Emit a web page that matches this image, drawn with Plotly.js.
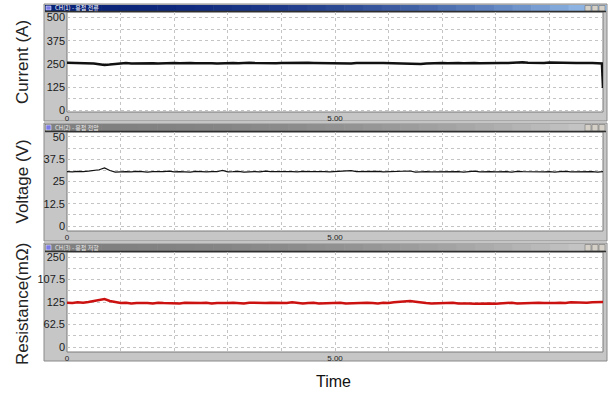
<!DOCTYPE html>
<html><head><meta charset="utf-8">
<script src="https://cdn.plot.ly/plotly-3.0.1.min.js"></script>
<style>html,body{margin:0;padding:0;background:#fff}#chart{width:609px;height:394px}</style>
</head><body><div id="chart"></div>
<script>
// ---------- data ----------
const time = [0,0.1,0.2,0.3,0.4,0.5,0.6,0.7,0.8,0.9,
1,1.1,1.2,1.3,1.4,1.5,1.6,1.7,1.8,1.9,
2,2.1,2.2,2.3,2.4,2.5,2.6,2.7,2.8,2.9,
3,3.1,3.2,3.3,3.4,3.5,3.6,3.7,3.8,3.9,
4,4.1,4.2,4.3,4.4,4.5,4.6,4.7,4.8,4.9,
5,5.1,5.2,5.3,5.4,5.5,5.6,5.7,5.8,5.9,
6,6.1,6.2,6.3,6.4,6.5,6.6,6.7,6.8,6.9,
7,7.1,7.2,7.3,7.4,7.5,7.6,7.7,7.8,7.9,
8,8.1,8.2,8.3,8.4,8.5,8.6,8.7,8.8,8.9,
9,9.1,9.2,9.3,9.4,9.5,9.6,9.7,9.8,9.9,
9.98,10];
const current = [256,255,257,255,254,252,248,244,246,250,
253,254,252,253,255,254,253,252,254,255,
254,253,255,254,253,254,255,253,252,254,
255,254,253,255,256,254,253,254,255,253,
254,255,254,253,254,256,255,254,253,254,
255,254,253,252,254,255,254,253,255,254,
253,254,252,250,247,246,249,252,254,255,
254,253,255,254,253,255,254,253,254,255,
256,255,254,256,257,258,256,255,254,255,
257,256,254,255,256,254,255,256,254,253,
252,120];
const voltage = [30.6,30.4,30.7,30.5,30.8,31.0,31.6,32.6,31.2,30.3,
30.5,30.6,30.4,30.7,30.5,30.3,30.6,30.4,30.5,30.8,
30.4,30.6,30.5,30.3,30.7,30.5,30.4,30.6,30.5,31.2,
30.4,30.5,30.7,30.3,30.6,30.5,30.4,30.8,30.5,30.6,
30.3,30.5,30.6,30.4,30.7,30.5,30.6,30.3,30.5,30.4,
30.6,30.5,30.8,31.1,30.5,30.6,30.3,30.5,30.7,30.4,
30.5,30.6,30.4,30.5,30.9,30.3,30.5,30.6,30.4,30.5,
30.7,30.4,30.5,30.6,30.3,30.5,30.8,30.4,30.6,30.5,
30.4,30.6,30.5,30.3,30.7,30.5,30.4,30.6,30.5,30.4,
30.6,30.3,30.5,30.7,30.4,30.5,30.6,30.4,30.5,30.3,
30.5,30.6];
const resistance = [123,122,124,123,125,127,130,133,128,124,
122,123,121,122,123,122,121,123,122,121,
122,121,123,122,121,122,123,121,122,121,
122,123,122,121,123,122,121,122,123,122,
121,122,124,122,121,122,123,121,122,121,
122,123,121,122,121,122,123,122,121,123,
122,124,125,127,128,126,123,122,121,122,
121,122,123,121,122,121,120,121,122,121,
120,121,122,123,121,122,121,122,123,122,
121,122,123,122,124,123,122,123,124,125,
124,125];
const currentTicks = [0,125,250,375,500];
const currentTickText = ["0","125","250","375","500"];
const voltageTicks = [0,12.5,25,37.5,50];
const voltageTickText = ["0","12.5","25","37.5","50"];
const resistanceTicks = [0,62.5,125,187.5,250];
const resistanceTickText = ["0","62.5","125","107.5","250"];
const timeTicks = [0,5];
const timeTickText = ["0","5.00"];
const yTitles = ["Current (A)","Voltage (V)","Resistance(mΩ)"];
const windowTitles = ["CH(1) - 용접 전류","CH(2) - 용접 전압","CH(3) - 용접 저항"];
const xTitle = "Time";

// ---------- layout helpers ----------
const W = 609, H = 394;
const fx = p => p / W;
const fy = p => 1 - p / H;
const winL = 44, winR = 607, plotL = 67, plotR = 603;
const panels = [
  {top:4,  tTop:5,   tBot:11,  pTop:12,  pBot:112, bot:121, range:[-10,530], active:true},
  {top:123,tTop:124, tBot:131, pTop:132, pBot:231, bot:241, range:[-2.8,52.8], active:false},
  {top:243,tTop:244, tBot:251, pTop:252, pBot:352, bot:361, range:[-13.9,263.9], active:false}
];
function hex(c){return '#'+c.map(v=>Math.round(v).toString(16).padStart(2,'0')).join('');}
function mix(a,b,t){return a.map((v,i)=>v+(b[i]-v)*t);}

const shapes = [];
const annotations = [];
panels.forEach((p,i)=>{
  shapes.push({type:'rect',xref:'paper',yref:'paper',layer:'below',
    x0:fx(winL),x1:fx(winR),y0:fy(p.bot),y1:fy(p.top),
    fillcolor:'#c6c6c6',line:{color:'#8a8a8a',width:1}});
  const c0 = p.active ? [10,36,120] : [128,128,128];
  const c1 = p.active ? [150,190,235] : [200,200,200];
  const n = 30, x0 = winL+1, x1 = winR-1;
  for(let k=0;k<n;k++){
    const t = k/(n-1);
    const tt = Math.pow(t,2.2);
    shapes.push({type:'rect',xref:'paper',yref:'paper',layer:'below',
      x0:fx(x0+(x1-x0)*k/n),x1:fx(x0+(x1-x0)*(k+1)/n+0.5),
      y0:fy(p.tBot),y1:fy(p.tTop),fillcolor:hex(mix(c0,c1,tt)),line:{width:0}});
  }
  shapes.push({type:'rect',xref:'paper',yref:'paper',layer:'below',
    x0:fx(46),x1:fx(51),y0:fy(p.tBot-1),y1:fy(p.tTop+1),
    fillcolor:'#7a7ae8',line:{color:'#ffffff',width:0.5}});
  [585,592,599].forEach((bx)=>{
    shapes.push({type:'rect',xref:'paper',yref:'paper',layer:'below',
      x0:fx(bx),x1:fx(bx+6),y0:fy(p.tBot),y1:fy(p.tTop+0.5),
      fillcolor:'#d4d0c8',line:{color:'#606060',width:0.5}});
  });
  shapes.push({type:'rect',xref:'paper',yref:'paper',layer:'below',
    x0:fx(plotL),x1:fx(plotR),y0:fy(p.pBot),y1:fy(p.pTop),
    fillcolor:'#ffffff',line:{color:'#7a7a7a',width:1}});
  shapes.push({type:'line',xref:'paper',yref:'paper',layer:'below',
    x0:fx(winL+1),x1:fx(winR-1),y0:fy(p.pTop-0.5),y1:fy(p.pTop-0.5),
    line:{color:'#303030',width:1.5}});
  annotations.push({xref:'paper',yref:'paper',x:fx(53),y:fy((p.tTop+p.tBot)/2),
    xanchor:'left',yanchor:'middle',showarrow:false,text:windowTitles[i],
    font:{family:'Noto Sans CJK KR, sans-serif',size:6,color:p.active?'#ffffff':'#e8e8e8'}});
  annotations.push({xref:'paper',yref:'paper',x:fx(22),y:fy((p.pTop+p.pBot)/2 + (i===2?2:0)),
    xanchor:'center',yanchor:'middle',showarrow:false,textangle:-90,text:yTitles[i],
    font:{family:'Liberation Sans, Arial, sans-serif',size:17,color:'#222'}});
});
annotations.push({xref:'paper',yref:'paper',x:fx(333),y:fy(381),xanchor:'center',yanchor:'middle',
  showarrow:false,text:xTitle,font:{family:'Liberation Sans, Arial, sans-serif',size:16,color:'#111'}});

const gridc = '#c4c4c4';
function xAx(anchor){
  return {domain:[fx(plotL),fx(plotR)],anchor:anchor,range:[0,10],tickmode:'array',
    tickvals:timeTicks,ticktext:timeTickText,ticks:'',showgrid:true,gridcolor:gridc,griddash:'dot',
    gridwidth:1,minor:{dtick:1,showgrid:true,gridcolor:gridc,griddash:'dot',gridwidth:1},
    zeroline:false,showline:false,tickfont:{family:'Liberation Sans, Arial, sans-serif',size:8,color:'#222'},
    ticklabelstandoff:0,fixedrange:true};
}
function yAx(i,anchor,ticks,text,half){
  const p = panels[i];
  return {domain:[fy(p.pBot),fy(p.pTop)],anchor:anchor,range:p.range,tickmode:'array',
    tickvals:ticks,ticktext:text,ticks:'',showgrid:true,gridcolor:gridc,griddash:'dot',gridwidth:1,
    minor:{dtick:half,tick0:0,showgrid:true,gridcolor:gridc,griddash:'dot',gridwidth:1},
    zeroline:false,showline:false,ticklabelstandoff:1,
    tickfont:{family:'Liberation Sans, Arial, sans-serif',size:11,color:'#1a1a1a'},fixedrange:true};
}

const traces = [
  {x:time,y:current,xaxis:'x',yaxis:'y',type:'scatter',mode:'lines',line:{color:'#111111',width:2.5},hoverinfo:'skip'},
  {x:time,y:voltage,xaxis:'x2',yaxis:'y2',type:'scatter',mode:'lines',line:{color:'#111111',width:1.2},hoverinfo:'skip'},
  {x:time,y:resistance,xaxis:'x3',yaxis:'y3',type:'scatter',mode:'lines',line:{color:'#cc1111',width:2.5},hoverinfo:'skip'}
];

const layout = {
  width:W,height:H,margin:{l:0,r:0,t:0,b:0},showlegend:false,
  paper_bgcolor:'#ffffff',plot_bgcolor:'rgba(0,0,0,0)',
  xaxis:xAx('y'),xaxis2:xAx('y2'),xaxis3:xAx('y3'),
  yaxis:yAx(0,'x',currentTicks,currentTickText,62.5),
  yaxis2:yAx(1,'x2',voltageTicks,voltageTickText,6.25),
  yaxis3:yAx(2,'x3',resistanceTicks,resistanceTickText,31.25),
  shapes:shapes,annotations:annotations
};
Plotly.newPlot('chart',traces,layout,{displayModeBar:false,staticPlot:true});
</script></body></html>
